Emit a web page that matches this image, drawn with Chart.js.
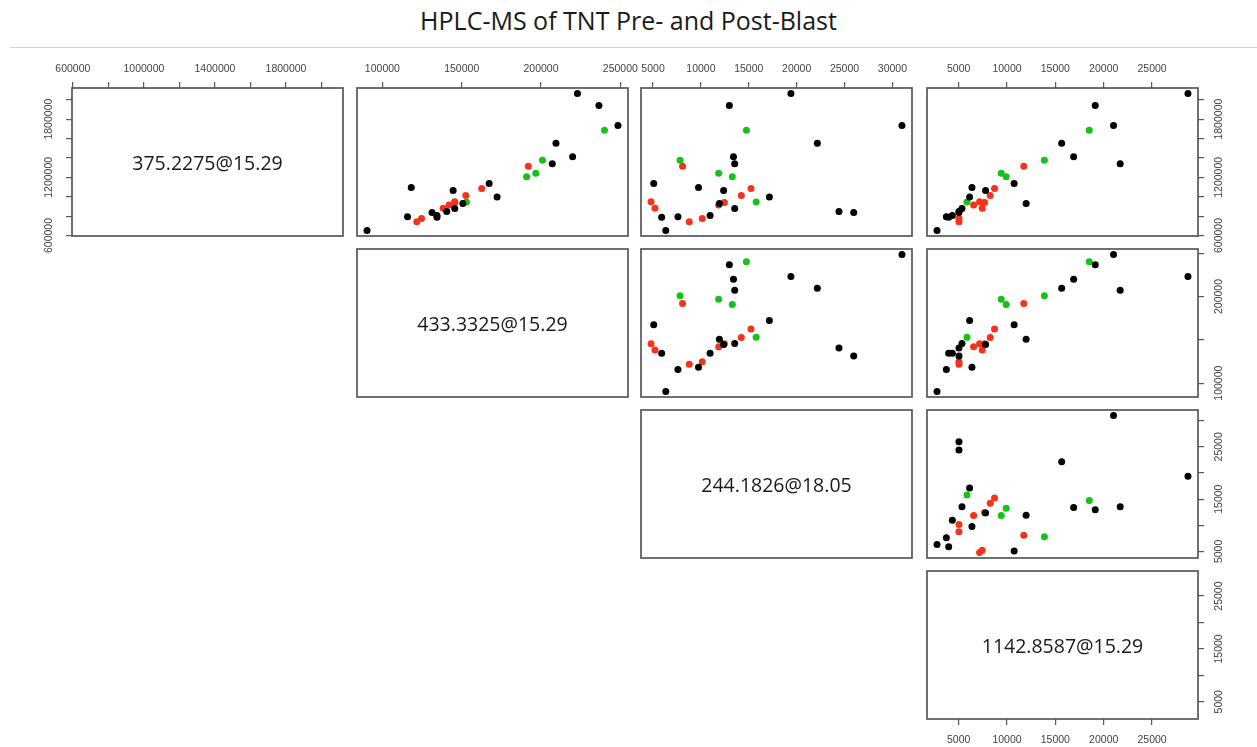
<!DOCTYPE html>
<html><head><meta charset="utf-8">
<script src="https://cdn.jsdelivr.net/npm/chart.js@4.4.1/dist/chart.umd.min.js"></script>
<style>
html,body{margin:0;padding:0;background:#fff;}
body{width:1257px;height:747px;overflow:hidden;position:relative;font-family:'Open Sans',sans-serif;}
#title{position:absolute;left:0;top:3px;width:1257px;text-align:center;font-size:25px;line-height:34px;color:#1a1a1a;}
#rule{position:absolute;left:10px;top:47px;width:1247px;height:1px;background:#d4d4d4;}
canvas{position:absolute;}
.diag{position:absolute;display:flex;align-items:center;justify-content:center;font-size:19.5px;color:#1a1a1a;}
</style></head><body>
<div id="title">HPLC-MS of TNT Pre- and Post-Blast</div>
<div id="rule"></div>
<script>
// ---------------- data ----------------
const varNames = ['375.2275@15.29', '433.3325@15.29', '244.1826@18.05', '1142.8587@15.29'];
// group code per sample: 2 = red, 3 = green, 1 = black (R palette order)
const group = [2,2,2,2,2,2,2,2,2, 3,3,3,3,3, 1,1,1,1,1,1,1,1,1,1,1,1,1,1,1,1,1,1];
const v375 = [1313200,1085800,1013400,941100,948000,913500,882500,775700,741300,
              1685300,1375200,1240800,1206400,944500,
              2064300,1940200,1733500,1550900,1413100,1340700,1137500,930700,1096100,1065100,996200,879100,848100,837700,806700,789500,792900,651700];
const v433 = [192000,162600,152600,145600,145600,142000,138300,124700,121700,
              240000,200900,196700,190900,153000,
              222970,236500,248490,209400,219900,207100,167300,150700,118200,144600,172300,145630,140600,131300,134400,134400,115850,90330];
const v244 = [8080,15230,14220,12450,4790,11860,5200,10140,8780,
              14750,7820,11850,13280,15770,
              19400,12970,31000,22160,13400,13530,5070,11930,9750,12370,17150,13530,24420,25960,10960,5900,7600,6330];
const v1142 = [11735,8711,8265,7680,7165,6546,7440,5034,5034,
               18505,13866,9399,9914,5859,
               28711,19124,21014,15653,16890,21701,10739,11976,6375,7784,6134,5344,5034,5034,4347,3969,3729,2766];

const ticks375 = [600000,800000,1000000,1200000,1400000,1600000,1800000,2000000];
const labels375Top = [600000,1000000,1400000,1800000];
const labels375Side = [600000,1200000,1800000];
const ticks433 = [100000,150000,200000,250000];
const labels433Top = [100000,150000,200000,250000];
const labels433Side = [100000,200000];
const ticks244 = [5000,10000,15000,20000,25000,30000];
const labels244Top = [5000,10000,15000,20000,25000,30000];
const labels244Side = [5000,15000,25000];
const ticks1142 = [5000,10000,15000,20000,25000];
const labels1142Top = [5000,10000,15000,20000,25000];
const labels1142Side = [5000,15000,25000];

// ---------------- layout / style ----------------
const values = [v375, v433, v244, v1142];
const tickSets = [ticks375, ticks433, ticks244, ticks1142];
const topLabels = [labels375Top, labels433Top, labels244Top, labels1142Top];
const sideLabels = [labels375Side, labels433Side, labels244Side, labels1142Side];
const groupColor = {1:'#000000', 2:'#f5321a', 3:'#16c216'};

const colLeft = [72, 357, 641, 927];
const rowTop = [88, 249, 410, 571];
const W = 271, H = 148, M = 45;
const TL = 6;
const tickFont = {family:"'Liberation Sans', Arial, sans-serif", size:10.5};
const tickColor = '#444';
const frameColor = '#585858';

function rangeOf(a) { // R's default 4% axis extension
  const mn = Math.min(...a), mx = Math.max(...a), d = (mx - mn) * 0.04;
  return [mn - d, mx + d];
}
const measureCtx = document.createElement('canvas').getContext('2d');
measureCtx.font = "10.5px 'Liberation Sans', Arial, sans-serif";
function widest(labels) { return Math.max(...labels.map(l => measureCtx.measureText(String(l)).width)); }

const framePlugin = {
  id: 'frame',
  afterDatasetsDraw(chart) {
    const {ctx, chartArea: a} = chart;
    ctx.save();
    ctx.strokeStyle = frameColor;
    ctx.lineWidth = 1.7;
    ctx.strokeRect(a.left, a.top, a.right - a.left, a.bottom - a.top);
    ctx.restore();
  }
};

function axisCommon(vi, shown) {
  const [mn, mx] = rangeOf(values[vi]);
  return {
    type: 'linear', min: mn, max: mx, display: shown,
    afterBuildTicks: s => { s.ticks = tickSets[vi].map(v => ({value: v})); },
    grid: {display: true, drawOnChartArea: false, drawTicks: true, tickLength: TL, color: frameColor, lineWidth: 1.2},
    border: {display: false},
  };
}

function makePanel(r, c) {
  const cv = document.createElement('canvas');
  cv.width = W + 2 * M; cv.height = H + 2 * M;
  cv.style.left = (colLeft[c] - M) + 'px';
  cv.style.top = (rowTop[r] - M) + 'px';
  cv.style.width = (W + 2 * M) + 'px';
  cv.style.height = (H + 2 * M) + 'px';
  document.body.appendChild(cv);

  const showTop = r === 0;
  const showBottom = (r === 3 && c === 3);
  const showRight = c === 3;
  const showLeft = (r === 0 && c === 0);
  const xShown = showTop || showBottom;
  const yShown = showLeft || showRight;

  const xl = topLabels[c];
  const yl = sideLabels[r];
  const x = axisCommon(c, xShown);
  x.position = showBottom ? 'bottom' : 'top';
  x.afterFit = s => { if (xShown) s.height = M; s.paddingLeft = 0; s.paddingRight = 0; };
  x.ticks = {autoSkip: false, minRotation: 0, maxRotation: 0, padding: showBottom ? 9 : 7,
             font: tickFont, color: tickColor,
             callback: v => xl.includes(v) ? String(v) : ''};
  const y = axisCommon(r, yShown);
  y.position = showLeft ? 'left' : 'right';
  y.afterFit = s => { if (yShown) s.width = M; s.paddingTop = 0; s.paddingBottom = 0; };
  const D = showLeft ? 23 : 21.5;
  y.ticks = {autoSkip: false, minRotation: 90, maxRotation: 90, crossAlign: 'center',
             padding: D - TL - widest(yl) / 2,
             font: tickFont, color: tickColor,
             callback: v => yl.includes(v) ? String(v) : ''};

  const pts = [];
  const cols = [];
  if (r !== c) {
    for (let k = 0; k < group.length; k++) {
      pts.push({x: values[c][k], y: values[r][k]});
      cols.push(groupColor[group[k]]);
    }
  }

  new Chart(cv, {
    type: 'scatter',
    data: {datasets: [{data: pts, pointBackgroundColor: cols, pointBorderWidth: 0,
                       pointRadius: 3.5, pointHoverRadius: 3.5, borderWidth: 0}]},
    options: {
      responsive: false, animation: false, devicePixelRatio: 1,
      layout: {autoPadding: false,
               padding: {left: showLeft ? 0 : M, right: showRight ? 0 : M,
                         top: showTop ? 0 : M, bottom: showBottom ? 0 : M}},
      plugins: {legend: {display: false}, tooltip: {enabled: false}},
      events: [],
      scales: {x, y}
    },
    plugins: [framePlugin]
  });

  if (r === c) {
    const d = document.createElement('div');
    d.className = 'diag';
    d.style.left = colLeft[c] + 'px';
    d.style.top = rowTop[r] + 'px';
    d.style.width = W + 'px';
    d.style.height = H + 'px';
    d.textContent = varNames[r];
    document.body.appendChild(d);
  }
}

for (let r = 0; r < 4; r++) {
  for (let c = r; c < 4; c++) makePanel(r, c);
}
</script>
</body></html>
